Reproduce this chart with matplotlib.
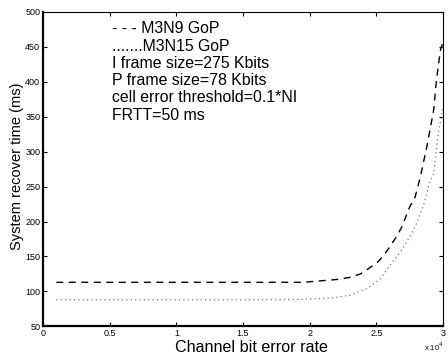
import numpy as np
import matplotlib
matplotlib.use("Agg")
import matplotlib.pyplot as plt

plt.rcParams['font.family'] = ['Liberation Sans', 'DejaVu Sans']

# channel bit error rate (x 10^4) and recover time (ms)
ber_m3n9 = [0.1, 0.5, 1.0, 1.5, 1.95, 2.2, 2.3, 2.38, 2.44, 2.51, 2.565, 2.65,
            2.69, 2.75, 2.79, 2.83, 2.88, 2.93, 2.95, 2.98, 3.0]
time_m3n9 = [113, 113, 113, 113, 113, 117, 120, 125, 132.5, 142, 154, 178,
             192, 221, 235, 264, 309, 360, 402, 445, 458]

ber_m3n15 = [0.1, 0.5, 1.0, 1.5, 1.94, 2.18, 2.3, 2.43, 2.53, 2.6, 2.68, 2.75,
             2.8, 2.85, 2.9, 2.93, 2.96, 2.99, 3.0]
time_m3n15 = [88, 88, 88, 88, 88.5, 91, 94.5, 104, 118, 137, 156.5, 178,
              197, 221, 257, 269, 321, 355, 362]

notes = ["- - - M3N9 GoP", ".......M3N15 GoP", "I frame size=275 Kbits",
         "P frame size=78 Kbits", "cell error threshold=0.1*NI", "FRTT=50 ms"]

fig = plt.figure(figsize=(4.48, 3.61), dpi=100)
ax = fig.add_axes([0.096, 0.096, 0.893, 0.871])

ax.plot(ber_m3n9, time_m3n9, color='black', linestyle=(0, (5, 4)), linewidth=1.0)
ax.plot(ber_m3n15, time_m3n15, color='#777777', linestyle=(0, (1, 2.5)), linewidth=0.9)

ax.set_xlim(0, 3)
ax.set_ylim(50, 500)
ax.set_xticks(np.arange(0, 3.01, 0.5))
ax.set_xticklabels(['0', '0.5', '1', '1.5', '2', '2.5', '3'])
ax.set_yticks(np.arange(50, 501, 50))

ax.tick_params(direction='in', top=True, right=True, length=3, width=0.8,
               labelsize=6.5, pad=2)
ax.spines['left'].set_linewidth(1.6)
ax.spines['bottom'].set_linewidth(1.6)
ax.spines['top'].set_linewidth(0.8)
ax.spines['right'].set_linewidth(0.8)

ax.set_xlabel('Channel bit error rate', fontsize=11.6, labelpad=1)
ax.xaxis.label.set_x(0.52)
ax.set_ylabel('System recover time (ms)', fontsize=10.5, labelpad=1)
ax.yaxis.label.set_y(0.51)
ax.text(1.0, -0.065, r'x 10$^4$', transform=ax.transAxes, fontsize=5.5,
        ha='right', va='center')

for i, line in enumerate(notes):
    ax.text(0.172, 0.932 - i * 0.055, line, transform=ax.transAxes,
            fontsize=11.4, ha='left', va='baseline')

fig.savefig('out.png', dpi=100)
